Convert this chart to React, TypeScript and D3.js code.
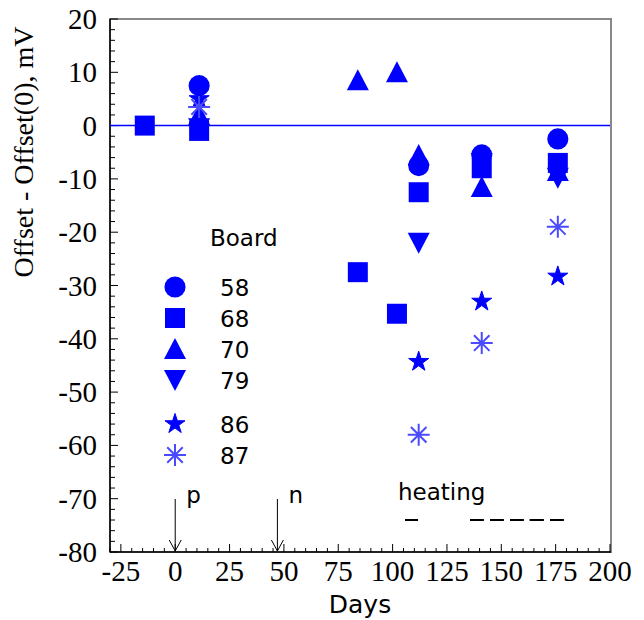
import React from "react";
import * as d3 from "d3";

// ---- data ----
const board58Days = [11, 112, 141, 176];
const board58Vals = [7.5, -7.5, -5.5, -2.5];
const board68Days = [-14, 11, 84, 102, 112, 141, 176];
const board68Vals = [0, -1, -27.5, -35.3, -12.5, -8, -7];
const board70Days = [11, 84, 102, 112, 141, 176];
const board70Vals = [2, 8.5, 10, -5.5, -11.5, -8.5];
const board79Days = [11, 112, 141, 176];
const board79Vals = [-0.5, -22, -7, -9.8];
const board86Days = [11, 112, 141, 176];
const board86Vals = [5, -44.3, -33, -28.3];
const board87Days = [11, 112, 141, 176];
const board87Vals = [3.5, -58, -40.8, -19];

const boardNames = ["58", "68", "70", "79", "86", "87"];
const xTicks = [-25, 0, 25, 50, 75, 100, 125, 150, 175, 200];
const yTicks = [20, 10, 0, -10, -20, -30, -40, -50, -60, -70, -80];
const arrowDays = [0, 47];
const arrowLabels = ["p", "n"];
const heatingStart = [105.7, 135.6, 144.8, 154, 163, 172.4];
const heatingEnd = [111.7, 142, 151.2, 160.4, 169.6, 178.8];

const W = 644, H = 620;
const L = 110, R = 610, T = 19, B = 552;
const BLUE = "#0000ff";
const LIGHT = "#4a4aff";

const x = d3.scaleLinear().domain([-30, 200]).range([L, R]);
const y = d3.scaleLinear().domain([-80, 20]).range([B, T]);

const circlePath = d3.symbol(d3.symbolCircle, 350)()!;
const squarePath = d3.symbol(d3.symbolSquare, 400)()!;
const starPath = d3.symbol(d3.symbolStar, 125)()!;
const upTri = "M0,-11L11,10L-11,10Z";
const downTri = "M0,11L11,-10L-11,-10Z";
const asterisk = (() => {
  const r = 11;
  const p: string[] = [];
  for (let i = 0; i < 4; i++) {
    const a = (i * Math.PI) / 4;
    p.push(`M${(-r * Math.cos(a)).toFixed(2)},${(-r * Math.sin(a)).toFixed(2)}L${(r * Math.cos(a)).toFixed(2)},${(r * Math.sin(a)).toFixed(2)}`);
  }
  return p.join("");
})();

type Shape = { d: string; fill: string; stroke: string; sw: number };
const shapes: Shape[] = [
  { d: circlePath, fill: BLUE, stroke: "none", sw: 0 },
  { d: squarePath, fill: BLUE, stroke: "none", sw: 0 },
  { d: upTri, fill: BLUE, stroke: "none", sw: 0 },
  { d: downTri, fill: BLUE, stroke: "none", sw: 0 },
  { d: starPath, fill: BLUE, stroke: BLUE, sw: 1 },
  { d: asterisk, fill: "none", stroke: LIGHT, sw: 2 },
];
const series = [
  [board58Days, board58Vals],
  [board68Days, board68Vals],
  [board70Days, board70Vals],
  [board79Days, board79Vals],
  [board86Days, board86Vals],
  [board87Days, board87Vals],
];

const SERIF = "'Times New Roman', 'Liberation Serif', 'DejaVu Serif', serif";
const SANS = "'DejaVu Sans', sans-serif";

export default function App() {
  const xMinor = d3.range(-30, 201, 5);
  const yMinor = d3.range(-80, 21, 2);
  const legendY = [287, 318, 349, 380, 424, 455];
  return (
    <svg width={W} height={H} style={{ position: "absolute", left: 0, top: 0, background: "#fff" }}>
      {/* frame */}
      <rect x={L} y={T} width={R - L + 1} height={B - T} fill="none" stroke="#888" strokeWidth={2} />
      <line x1={L} x2={L} y1={T} y2={B} stroke="#000" strokeWidth={1.5} />
      <line x1={L} x2={R + 1} y1={B} y2={B} stroke="#000" strokeWidth={1.5} />
      {/* ticks */}
      {xMinor.map((t) => (
        <line key={"xm" + t} x1={x(t)} x2={x(t)} y1={B} y2={B - (t % 25 === 0 ? 8 : 4)} stroke="#000" strokeWidth={1} />
      ))}
      {yMinor.map((t) => (
        <line key={"ym" + t} x1={L} x2={L + (t % 10 === 0 ? 8 : 5)} y1={y(t)} y2={y(t)} stroke="#000" strokeWidth={1} />
      ))}
      <g fontFamily={SERIF} fontSize={29}>
        {xTicks.map((t) => (
          <text key={"xt" + t} x={x(t)} y={581} textAnchor="middle">
            {t}
          </text>
        ))}
        {yTicks.map((t) => (
          <text key={"yt" + t} x={97} y={y(t) + 10} textAnchor="end">
            {t}
          </text>
        ))}
      </g>
      <text transform={`translate(33,${152}) rotate(-90)`} textAnchor="middle" fontFamily={SERIF} fontSize={28}>
        Offset - Offset(0), mV
      </text>
      <text x={(L + R) / 2} y={613} textAnchor="middle" fontFamily={SANS} fontSize={25}>
        Days
      </text>
      {/* zero line */}
      <line x1={L} x2={R} y1={y(0)} y2={y(0)} stroke={BLUE} strokeWidth={1.5} />
      {/* arrows */}
      {arrowDays.map((d, i) => (
        <g key={"ar" + i}>
          <line x1={x(d)} x2={x(d)} y1={499} y2={B - 1} stroke="#000" strokeWidth={1} />
          <path d={`M${x(d) - 6},${B - 12}L${x(d)},${B - 1}L${x(d) + 6},${B - 12}`} fill="none" stroke="#000" strokeWidth={1} />
          <text x={x(d) + 11} y={503} fontFamily={SANS} fontSize={23}>
            {arrowLabels[i]}
          </text>
        </g>
      ))}
      <text x={398} y={500} fontFamily={SANS} fontSize={23}>
        heating
      </text>
      {heatingStart.map((s, i) => (
        <line key={"h" + i} x1={x(s)} x2={x(heatingEnd[i])} y1={520} y2={520} stroke="#000" strokeWidth={2} />
      ))}
      {/* data */}
      {series.map(([days, vals], si) =>
        days.map((d, j) => (
          <path
            key={si + "-" + j}
            d={shapes[si].d}
            transform={`translate(${x(d)},${y(vals[j])})`}
            fill={shapes[si].fill}
            stroke={shapes[si].stroke}
            strokeWidth={shapes[si].sw}
          />
        ))
      )}
      {/* legend */}
      <text x={210} y={246} fontFamily={SANS} fontSize={23}>
        Board
      </text>
      {boardNames.map((n, i) => (
        <g key={"lg" + n}>
          <path d={shapes[i].d} transform={`translate(175,${legendY[i]})`} fill={shapes[i].fill} stroke={shapes[i].stroke} strokeWidth={shapes[i].sw} />
          <text x={220} y={legendY[i] + 9} fontFamily={SANS} fontSize={23}>
            {n}
          </text>
        </g>
      ))}
    </svg>
  );
}
